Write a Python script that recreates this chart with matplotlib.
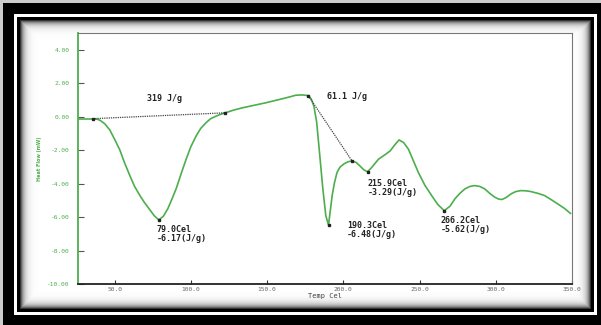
import numpy as np
import matplotlib
matplotlib.use("Agg")
import matplotlib.pyplot as plt

# DSC trace: temperature (Cel) vs heat flow
temp = [26.0, 32.0, 36.0, 38.5, 40.5, 43.5, 46.9, 50.0, 53.4, 56.5, 59.9, 63.0,
        66.5, 69.5, 73.0, 76.0, 79.0, 82.0, 84.9, 87.5, 90.4, 93.5, 96.9, 100.0,
        103.5, 106.5, 110.0, 113.0, 116.5, 119.5, 122.6, 128.0, 133.9, 141.5,
        149.2, 155.5, 162.2, 166.0, 168.8, 173.0, 177.0, 179.0, 180.7, 182.5,
        184.0, 186.6, 188.5, 190.3, 191.5, 192.7, 194.2, 195.9, 197.8, 200.3,
        203.0, 205.7, 208.5, 211.2, 213.5, 215.9, 218.5, 223.1, 227.9, 230.8,
        233.8, 236.6, 239.6, 242.7, 245.8, 249.2, 253.5, 257.9, 262.0, 266.2,
        270.0, 273.2, 276.5, 279.7, 283.0, 286.2, 289.5, 292.8, 296.0, 299.3,
        302.0, 304.1, 307.0, 310.1, 313.0, 316.3, 319.8, 323.2, 327.5, 331.9,
        336.2, 340.6, 345.0, 349.0]
heat_flow = [-0.14, -0.14, -0.14, -0.15, -0.22, -0.42, -0.80, -1.35, -1.98, -2.75, -3.50, -4.15,
             -4.70, -5.12, -5.55, -5.92, -6.17, -5.95, -5.50, -4.95, -4.30, -3.45, -2.55, -1.80,
             -1.15, -0.70, -0.36, -0.12, 0.03, 0.14, 0.23, 0.39, 0.53, 0.68,
             0.83, 0.97, 1.12, 1.21, 1.28, 1.30, 1.26, 1.05, 0.63, -0.30,
             -1.75, -4.32, -5.90, -6.48, -5.60, -4.71, -3.95, -3.33, -3.02, -2.83,
             -2.70, -2.64, -2.74, -2.97, -3.18, -3.29, -3.05, -2.54, -2.24, -2.04,
             -1.68, -1.39, -1.55, -1.94, -2.60, -3.33, -4.10, -4.71, -5.25, -5.62,
             -5.35, -4.91, -4.58, -4.32, -4.17, -4.12, -4.17, -4.32, -4.58, -4.81,
             -4.93, -4.95, -4.82, -4.61, -4.48, -4.42, -4.43, -4.48, -4.58, -4.71,
             -4.95, -5.21, -5.48, -5.78]

# integration baselines
base1_t = [35.8, 122.6]
base1_hf = [-0.12, 0.23]
base2_t = [177.0, 205.7]
base2_hf = [1.26, -2.64]

peak_t = [79.0, 190.3, 215.9, 266.2]
peak_hf = [-6.17, -6.48, -3.29, -5.62]
peak_labels = ["79.0Cel\n-6.17(J/g)", "190.3Cel\n-6.48(J/g)",
               "215.9Cel\n-3.29(J/g)", "266.2Cel\n-5.62(J/g)"]
peak_label_pos = [(77.5, -6.5), (202.5, -6.25), (216.0, -3.7), (264.0, -5.95)]

area_labels = ["319 J/g", "61.1 J/g"]
area_label_pos = [(71.0, 1.1), (189.5, 1.2)]

xticks = [50, 100, 150, 200, 250, 300, 350]
yticks = [4, 2, 0, -2, -4, -6, -8, -10]

W, H = 601, 325
fig = plt.figure(figsize=(W / 100, H / 100), dpi=100)

# framed background with an inner shadow around the white panel
bg = np.zeros((H, W))
bg[0:3, :] = 0.8
bg[:, 0:3] = 0.8
bg[14:17, 14:597] = 1.0
bg[312:315, 14:597] = 1.0
bg[14:315, 14:17] = 1.0
bg[14:315, 594:597] = 1.0
bg[17:312, 17:594] = 0.0
yy, xx = np.mgrid[0:H, 0:W]
x0, x1, y0, y1 = 20, 590, 20, 308
d = np.minimum.reduce([xx - x0, x1 - xx, yy - y0, y1 - yy]).astype(float)
inside = d >= 0
panel = 1 - 0.8 * np.exp(-d / 3.5)
bg[inside] = panel[inside]
bax = fig.add_axes([0, 0, 1, 1])
bax.imshow(bg, cmap="gray", vmin=0, vmax=1, aspect="auto", interpolation="bilinear")
bax.axis("off")

green = "#4cae4c"
ax = fig.add_axes([78 / W, 1 - 284 / H, (572 - 78) / W, (284 - 33) / H])
ax.set_facecolor("white")
ax.plot(temp, heat_flow, color=green, lw=1.2, solid_joinstyle="round")
ax.plot(base1_t, base1_hf, color="#444444", lw=0.9, ls=(0, (1, 0.8)))
ax.plot(base2_t, base2_hf, color="#444444", lw=0.9, ls=(0, (1, 0.8)))
ax.plot(base1_t + base2_t, base1_hf + base2_hf, "s", color="#222222", ms=2)
ax.plot(peak_t, peak_hf, "s", color="#222222", ms=2)

mono = dict(family="DejaVu Sans Mono", fontsize=6, weight="bold", color="#222222")
for txt, (x, y) in zip(peak_labels, peak_label_pos):
    ax.text(x, y, txt, va="top", ha="left", linespacing=1.0, **mono)
for txt, (x, y) in zip(area_labels, area_label_pos):
    ax.text(x, y, txt, va="center", ha="left", **mono)

ax.set_xlim(26, 350)
ax.set_ylim(-10, 5)
ax.set_xticks(xticks)
ax.set_xticklabels([f"{v:.1f}" for v in xticks])
ax.set_yticks(yticks)
ax.set_yticklabels([f"{v:.2f}" for v in yticks])
ax.tick_params(axis="x", direction="in", length=3, width=0.8, color="#333333",
               labelsize=4.5, labelcolor="#666666", pad=2)
ax.tick_params(axis="y", direction="in", length=4, width=0.8, color="#555555",
               labelsize=4.5, labelcolor=green, pad=6)
for lab in ax.get_xticklabels() + ax.get_yticklabels():
    lab.set_family("DejaVu Sans Mono")

ax.spines["left"].set_color(green)
ax.spines["left"].set_linewidth(1.3)
ax.spines["bottom"].set_color("#222222")
ax.spines["bottom"].set_linewidth(1.3)
ax.spines["top"].set_color("#777777")
ax.spines["right"].set_color("#777777")

ax.set_xlabel("Temp Cel", fontsize=5, family="DejaVu Sans Mono",
              color="#444444", labelpad=1)
ax.set_ylabel("Heat Flow (mW)", fontsize=3.5, color=green, weight="bold", labelpad=4)

fig.savefig("out.png", dpi=100)
